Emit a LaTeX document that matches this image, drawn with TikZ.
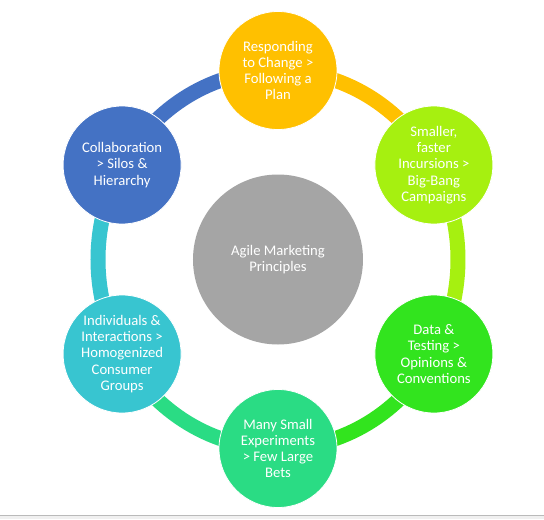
\documentclass[tikz,border=0pt]{standalone}
\usepackage{fontspec}
\setmainfont{Carlito}
\definecolor{HubClr}{RGB}{165,165,165}
\definecolor{TopClr}{RGB}{255,192,0}
\definecolor{UpRightClr}{RGB}{166,240,16}
\definecolor{LowRightClr}{RGB}{50,228,30}
\definecolor{BottomClr}{RGB}{42,220,132}
\definecolor{LowLeftClr}{RGB}{56,197,208}
\definecolor{UpLeftClr}{RGB}{68,114,196}

\begin{document}
\begin{tikzpicture}[x=0.75pt,y=0.75pt,
  ring/.style={line width=15*0.75pt},
  petal/.style={circle,draw=white,line width=0.6pt,minimum size=118*0.75pt,
    inner sep=0pt,text=white,align=center,font=\fontsize{11}{12.2}\selectfont},
  hubnode/.style={circle,fill=HubClr,minimum size=170*0.75pt,
    inner sep=0pt,text=white,align=center,font=\fontsize{11}{12.2}\selectfont}]
\fill[white] (-278,-259.5) rectangle (266,259.5);
\useasboundingbox (-278,-259.5) rectangle (266,259.5);

% window edge of the screenshot
\fill[black!6] (-278,-255.5) rectangle (266,-259.5);
\draw[black!27,line width=0.75pt] (-278,-255.5) -- (266,-255.5);

\foreach \ang/\nm in {90/top,30/upright,-30/lowright,-90/bottom,-150/lowleft,150/upleft}
  \coordinate (c-\nm) at (\ang:180 and 189);

% ring
\foreach \nm/\ang/\clr in {top/90/TopClr,upright/30/UpRightClr,lowright/-30/LowRightClr,
    bottom/-90/BottomClr,lowleft/-150/LowLeftClr,upleft/150/UpLeftClr}
  \draw[ring,\clr] (c-\nm) arc[start angle=\ang,end angle=\ang-60,x radius=180,y radius=189];

\node[hubnode] (hub) at (0,0) {Agile Marketing\\Principles};

\node[petal,fill=TopClr] (top) at (c-top) {Responding\\to Change >\\Following a\\Plan};
\node[petal,fill=UpRightClr] (upright) at (c-upright) {Smaller,\\faster\\Incursions >\\Big-Bang\\Campaigns};
\node[petal,fill=LowRightClr] (lowright) at (c-lowright) {Data \&\\Testing >\\Opinions \&\\Conventions};
\node[petal,fill=BottomClr] (bottom) at (c-bottom) {Many Small\\Experiments\\> Few Large\\Bets};
\node[petal,fill=LowLeftClr] (lowleft) at (c-lowleft) {Individuals \&\\Interactions >\\Homogenized\\Consumer\\Groups};
\node[petal,fill=UpLeftClr] (upleft) at (c-upleft) {Collaboration\\> Silos \&\\Hierarchy};

\end{tikzpicture}
\end{document}
